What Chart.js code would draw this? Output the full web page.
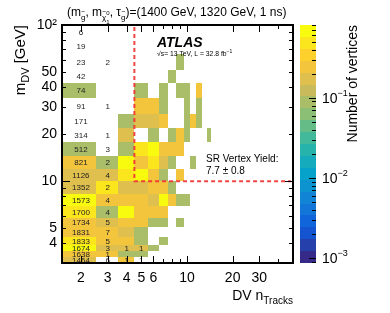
<!DOCTYPE html>
<html><head><meta charset="utf-8">
<script src="https://cdn.jsdelivr.net/npm/chart.js@4.4.0/dist/chart.umd.min.js"></script>
<style>html,body{margin:0;padding:0;background:#fff;}</style>
</head><body>
<canvas id="c" width="390" height="313"></canvas>
<script>
// ---- data ----
const massEdges = [3, 3.27, 3.56, 3.93, 4.39, 5.09, 5.85, 6.92, 8.26, 10, 11.9, 14.5, 17.8, 21.9, 27.1, 34, 42.5, 51.5, 65.2, 80.7, 100];
const nTracks = [2, 3, 4, 5, 6, 7, 8, 9, 10, 11, 12, 13, 14];
// number of vertices per nTracks column, ascending mass bins
const v2  = [0.17,0.27,0.7,0.48,0.27,0.27,0.48,0.7,0.17,0.17,0.27,0.1,null,null,null,0.1,null,null,null,null];
const v3  = [null,0.27,0.17,0.27,0.27,0.17,0.1,0.27,0.48,0.17,0.1,null,null,null,null,null,null,null,null,null];
const v4  = [0.27,0.1,0.17,0.27,0.17,0.27,0.7,0.27,0.17,0.48,0.7,0.1,0.17,0.1,null,null,null,null,null,null];
const v5  = [null,0.1,0.17,0.1,0.1,0.27,0.27,0.27,0.17,0.7,0.27,0.48,null,0.17,0.27,0.1,null,null,null,null];
const v6  = [null,null,0.1,null,null,0.1,0.27,0.17,0.27,0.27,0.48,0.7,0.1,0.17,0.27,null,null,null,null,null];
const v7  = [null,null,null,0.1,null,0.1,0.27,0.7,0.27,0.1,0.17,0.27,null,0.27,0.1,0.1,null,null,null,null];
const v8  = [null,null,null,null,null,null,null,0.27,0.1,null,0.1,0.27,0.1,null,null,null,0.1,null,null,null];
const v9  = [null,null,null,null,null,0.1,null,0.1,null,0.27,null,0.27,0.27,null,null,0.1,null,0.1,null,null];
const v10 = [null,null,null,null,null,null,null,0.1,null,null,null,null,0.1,0.1,0.1,0.1,null,null,null,null];
const v11 = [null,null,null,null,null,null,null,null,null,null,0.1,null,null,0.27,null,null,null,null,null,null];
const v12 = [null,null,null,null,null,null,null,null,null,null,null,null,null,0.1,0.1,0.27,null,null,null,null];
const v13 = [null,null,null,null,null,null,null,null,null,null,null,null,null,null,null,null,null,null,null,null];
const v14 = [null,null,null,null,null,null,null,null,null,null,null,null,0.1,null,null,null,null,null,null,null];
const columns = [v2, v3, v4, v5, v6, v7, v8, v9, v10, v11, v12, v13, v14];
// printed counts (ascending mass bins)
const counts2 = [1464,1638,1674,1833,1831,1734,1700,1573,1352,1126,821,512,314,171,91,74,42,23,19,6];
const counts3 = [6,1,3,5,7,5,4,4,2,4,2,3,1,null,1,null,null,2,null,null];
const counts4 = [1,null,1,null,null,null,null,null,null,null,null,null,null,null,null,null,null,null,null,null];
const counts5 = [1,null,1,null,null,null,null,null,null,null,null,null,null,null,null,null,null,null,null,null];
const countCols = [[2, counts2], [3, counts3], [4, counts4], [5, counts5]];
const xTickLabels = [2, 3, 4, 5, 6, 10, 20, 30];
const xTicksAll = [2, 3, 4, 5, 6, 7, 8, 9, 10, 20, 30, 40];
const yTickLabels = [4, 5, 10, 20, 30, 40, 50, 100];
const yTicksAll = [4, 5, 6, 7, 8, 9, 10, 20, 30, 40, 50, 60, 70, 80, 90, 100];
const zRange = [0.00087, 0.81];
const zDecades = [-3, -2, -1];
const srCut = { nTracks: 4.5, mass: 10 };
const srYield = "7.7 \u00b1 0.8";

// ---- palette (ROOT kBird) ----
const birdR = [0.2082,0.0592,0.0780,0.0232,0.1802,0.5301,0.8186,0.9956,0.9764];
const birdG = [0.1664,0.3599,0.5041,0.6419,0.7178,0.7492,0.7328,0.7862,0.9832];
const birdB = [0.5293,0.8684,0.8385,0.7914,0.6425,0.4662,0.3499,0.1968,0.0539];
function bird(t) {
  t = Math.min(1, Math.max(0, t));
  const s = t * 8, i = Math.min(7, Math.floor(s)), f = s - i;
  const c = a => Math.round(255 * (a[i] + (a[i+1] - a[i]) * f));
  return `rgb(${c(birdR)},${c(birdG)},${c(birdB)})`;
}
const NB = 20;
const zl0 = Math.log10(zRange[0]), zl1 = Math.log10(zRange[1]);
function bandOf(v) {
  let k = Math.floor((Math.log10(v) - zl0) / (zl1 - zl0) * NB);
  return Math.max(0, Math.min(NB - 1, k));
}
function bandColor(k) { return bird(k / (NB - 1)); }

const FONT = '"Liberation Sans", Arial, Helvetica, sans-serif';
function rich(ctx, segs, x, y, align) {
  let w = 0;
  for (const s of segs) {
    ctx.font = (s.f || '') + ' ' + s.size + 'px ' + FONT;
    s.w = ctx.measureText(s.t).width;
    w += (s.adv === 0 ? 0 : s.w);
  }
  let cx = align === 'right' ? x - w : x;
  for (const s of segs) {
    ctx.font = (s.f || '') + ' ' + s.size + 'px ' + FONT;
    ctx.fillText(s.t, cx, y + (s.dy || 0));
    if (s.tilde) {
      ctx.font = (s.size * 0.8) + 'px ' + FONT;
      const tw = ctx.measureText('~').width;
      ctx.fillText('~', cx + (s.w - tw) / 2, y + (s.dy || 0) - s.size * 0.72);
    }
    if (s.adv !== 0) cx += s.w;
  }
}

const heatPlugin = {
  id: 'heat',
  beforeDatasetsDraw(chart) {
    const ctx = chart.ctx, xs = chart.scales.x, ys = chart.scales.y, a = chart.chartArea;
    ctx.save();
    ctx.beginPath(); ctx.rect(a.left, a.top, a.right - a.left, a.bottom - a.top); ctx.clip();
    columns.forEach((col, ci) => {
      const n = nTracks[ci];
      const x0 = Math.round(xs.getPixelForValue(n - 0.5)), x1 = Math.round(xs.getPixelForValue(n + 0.5));
      col.forEach((v, r) => {
        if (v == null) return;
        const yT = Math.round(ys.getPixelForValue(massEdges[r+1])), yB = Math.round(ys.getPixelForValue(massEdges[r]));
        ctx.fillStyle = bandColor(bandOf(v));
        ctx.fillRect(x0, yT, x1 - x0, yB - yT);
      });
    });
    // counts
    ctx.fillStyle = '#222';
    ctx.font = '8px ' + FONT;
    ctx.textAlign = 'center'; ctx.textBaseline = 'middle';
    countCols.forEach(([n, arr]) => {
      const x = xs.getPixelForValue(n);
      arr.forEach((c, r) => {
        if (c == null) return;
        const y = (ys.getPixelForValue(massEdges[r]) + ys.getPixelForValue(massEdges[r+1])) / 2;
        ctx.fillText(String(c), x, y + 0.5);
      });
    });
    ctx.restore();
  },
  afterDraw(chart) {
    const ctx = chart.ctx, xs = chart.scales.x, ys = chart.scales.y, zs = chart.scales.z, a = chart.chartArea;
    ctx.save();
    // SR lines
    const xc = xs.getPixelForValue(srCut.nTracks), yc = ys.getPixelForValue(srCut.mass);
    ctx.strokeStyle = 'rgba(240,50,50,0.9)'; ctx.lineWidth = 2; ctx.setLineDash([4, 3]);
    ctx.beginPath(); ctx.moveTo(xc, a.top + 2); ctx.lineTo(xc, yc); ctx.lineTo(a.right - 2, yc); ctx.stroke();
    ctx.setLineDash([]);
    // ticks
    ctx.strokeStyle = '#000'; ctx.lineWidth = 1;
    xTicksAll.forEach(v => {
      const x = Math.round(xs.getPixelForValue(v)) + 0.5;
      const L = xTickLabels.includes(v) ? 7 : 4;
      ctx.beginPath(); ctx.moveTo(x, a.bottom); ctx.lineTo(x, a.bottom - L);
      ctx.moveTo(x, a.top); ctx.lineTo(x, a.top + L); ctx.stroke();
    });
    yTicksAll.forEach(v => {
      const y = Math.round(ys.getPixelForValue(v)) + 0.5;
      const L = (v === 10 || v === 100) ? 8 : 4;
      ctx.beginPath(); ctx.moveTo(a.left, y); ctx.lineTo(a.left + L, y);
      ctx.moveTo(a.right, y); ctx.lineTo(a.right - L, y); ctx.stroke();
    });
    // frame
    ctx.lineWidth = 2;
    ctx.strokeRect(a.left, a.top, a.right - a.left, a.bottom - a.top);
    // colour bar
    const cbL = 300, cbR = 316;
    for (let k = 0; k < NB; k++) {
      const vb = Math.pow(10, zl0 + (zl1 - zl0) * k / NB), vt = Math.pow(10, zl0 + (zl1 - zl0) * (k + 1) / NB);
      const yb = Math.round(zs.getPixelForValue(vb)), yt = Math.round(zs.getPixelForValue(vt));
      ctx.fillStyle = bandColor(k);
      ctx.fillRect(cbL, yt, cbR - cbL, yb - yt);
    }
    ctx.strokeStyle = '#000'; ctx.lineWidth = 1;
    for (let d = -4; d <= 0; d++) {
      for (let m = 1; m <= 9; m++) {
        const v = m * Math.pow(10, d);
        if (v < zRange[0] || v > zRange[1]) continue;
        const y = Math.round(zs.getPixelForValue(v)) + 0.5;
        const L = m === 1 ? 7 : 4;
        ctx.beginPath(); ctx.moveTo(cbR, y); ctx.lineTo(cbR - L, y); ctx.stroke();
      }
    }
    ctx.fillStyle = '#000'; ctx.textAlign = 'left'; ctx.textBaseline = 'alphabetic';
    zDecades.forEach(d => {
      const y = zs.getPixelForValue(Math.pow(10, d));
      rich(ctx, [{t: '10', size: 14}, {t: '\u2212' + (-d), size: 9, dy: -7}], 322, y + 5, 'left');
    });
    // colour bar title
    ctx.save();
    ctx.translate(357, a.top); ctx.rotate(-Math.PI / 2);
    rich(ctx, [{t: 'Number of vertices', size: 14}], 0, 0, 'right');
    ctx.restore();
    // y title
    ctx.save();
    ctx.translate(25, a.top); ctx.rotate(-Math.PI / 2);
    rich(ctx, [{t: 'm', size: 15}, {t: 'DV', size: 11, dy: 4}, {t: ' [GeV]', size: 15}], 0, 0, 'right');
    ctx.restore();
    // x title
    rich(ctx, [{t: 'DV n', size: 14}, {t: 'Tracks', size: 10, dy: 4}], 293, 300, 'right');
    // top title
    rich(ctx, [
      {t: '(m', size: 12}, {t: 'g', size: 8, dy: 4, tilde: true},
      {t: ', m', size: 12}, {t: '\u03c7', size: 8, dy: 4, tilde: true}, {t: '0', size: 6, dy: -1, adv: 0}, {t: '1', size: 6, dy: 8},
      {t: ', \u03c4', size: 12}, {t: 'g', size: 8, dy: 4, tilde: true},
      {t: ')=(1400 GeV, 1320 GeV, 1 ns)', size: 12}
    ], 67, 16, 'left');
    // ATLAS label
    rich(ctx, [{t: 'ATLAS', size: 14, f: 'italic bold'}], 157, 46.5, 'left');
    rich(ctx, [{t: '\u221as= 13 TeV, L = 32.8 fb', size: 6.8}, {t: '\u22121', size: 5, dy: -3}], 157, 55.5, 'left');
    // SR yield
    rich(ctx, [{t: 'SR Vertex Yield:', size: 10}], 206, 162, 'left');
    rich(ctx, [{t: srYield, size: 10}], 206, 173.5, 'left');
    ctx.restore();
  }
};

new Chart(document.getElementById('c'), {
  type: 'scatter',
  data: { datasets: [{ data: [], pointRadius: 0 }] },
  options: {
    responsive: false, animation: false, devicePixelRatio: 1,
    layout: { padding: { top: 25, right: 97, left: 0, bottom: 0 } },
    plugins: { legend: { display: false }, tooltip: { enabled: false } },
    scales: {
      x: {
        type: 'logarithmic', min: 1.5, max: 50,
        grid: { display: false, drawTicks: false }, border: { display: false },
        afterBuildTicks: s => { s.ticks = xTickLabels.map(v => ({ value: v })); },
        afterFit: s => { s.height = 50; },
        ticks: { autoSkip: false, maxRotation: 0, padding: 7, color: '#000',
          font: { family: FONT, size: 14 }, callback: v => String(v) }
      },
      y: {
        type: 'logarithmic', min: 3, max: 100,
        grid: { display: false, drawTicks: false }, border: { display: false },
        afterBuildTicks: s => { s.ticks = yTickLabels.map(v => ({ value: v })); },
        afterFit: s => { s.width = 62; },
        ticks: { autoSkip: false, padding: 5, color: '#000',
          font: { family: FONT, size: 14 }, callback: v => (v === 100 ? '10\u00b2' : String(v)) }
      },
      z: {
        type: 'logarithmic', position: 'right', display: false,
        min: zRange[0], max: zRange[1]
      }
    }
  },
  plugins: [heatPlugin]
});
</script>
</body></html>
